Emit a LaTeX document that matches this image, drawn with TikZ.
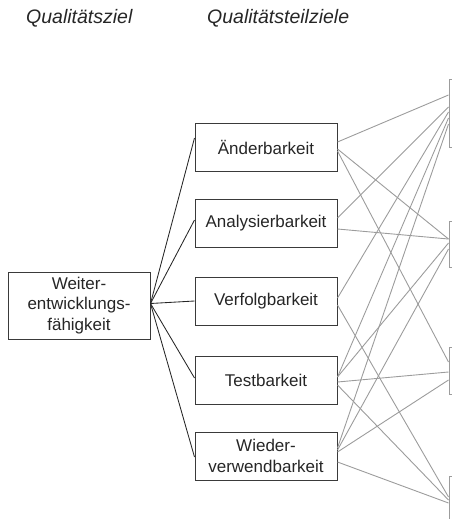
\documentclass[tikz,border=0pt]{standalone}
\usepackage{fontspec}
\setmainfont{Liberation Sans}
\usetikzlibrary{calc}
\definecolor{ink}{HTML}{262626}
\definecolor{frame}{HTML}{3A3A3A}
\definecolor{lightline}{HTML}{9C9C9C}
\begin{document}
\begin{tikzpicture}[x=1pt,y=-1pt,
  heading/.style={anchor=base west,inner sep=0pt,text=ink,
    font=\fontsize{19.5}{23}\selectfont\itshape},
  goalbox/.style={draw=frame,line width=1pt,rectangle,inner sep=0pt,
    text=ink,align=center,font=\fontsize{17}{20.5}\selectfont},
  subbox/.style={goalbox,minimum width=142pt,minimum height=48pt},
  critbox/.style={draw=lightline,line width=1pt,rectangle,inner sep=0pt,
    minimum width=60pt},
  trunk/.style={draw=ink,line width=0.85pt},
  link/.style={draw=lightline,line width=0.9pt}]
\clip (0,0) rectangle (452,519);

% column headings
\node[heading] (h1) at (26,24) {Qualitätsziel};
\node[heading] (h2) at (207,24) {Qualitätsteilziele};

% quality goal
\node[goalbox,minimum width=142pt,minimum height=67pt] (goal) at (79,305.5)
  {Weiter-\\entwicklungs-\\fähigkeit};

% sub-goals
\node[subbox] (and) at (266,147) {Änderbarkeit};
\node[subbox] (ana) at (266,223) {Analysierbarkeit};
\node[subbox] (ver) at (266,301) {Verfolgbarkeit};
\node[subbox] (tst) at (266,380) {Testbarkeit};
\node[subbox] (wie) at (266,456) {Wieder-\\verwendbarkeit};

% criteria boxes at the right edge
\node[critbox,minimum height=68pt] (r1) at (479,113) {};
\node[critbox,minimum height=46pt] (r2) at (479,244) {};
\node[critbox,minimum height=47pt] (r3) at (479,370.5) {};
\node[critbox,minimum height=47pt] (r4) at (479,499.5) {};

% goal to sub-goals
\foreach \t/\d in {and/-9,ana/-3,ver/0,tst/-2,wie/1}
  \draw[trunk] ($(goal.east)+(0,-2)$) -- ($(\t.west)+(0,\d)$);

% sub-goals to criteria
\foreach \s/\ds/\t/\dt in {
    and/-5/r1/-18, and/2/r2/-5, and/4/r3/-8.5,
    ana/-5/r1/-6, ana/6/r2/-5,
    ver/-3/r1/-1, ver/4/r4/-2.5,
    tst/-3/r1/5, tst/-3/r2/-1, tst/2/r3/1.5, tst/5/r4/0.5,
    wie/-8/r1/11, wie/-6/r2/5, wie/-4/r3/9.5, wie/6/r4/3.5}
  \draw[link] ($(\s.east)+(0,\ds)$) -- ($(\t.west)+(0,\dt)$);
\end{tikzpicture}
\end{document}
